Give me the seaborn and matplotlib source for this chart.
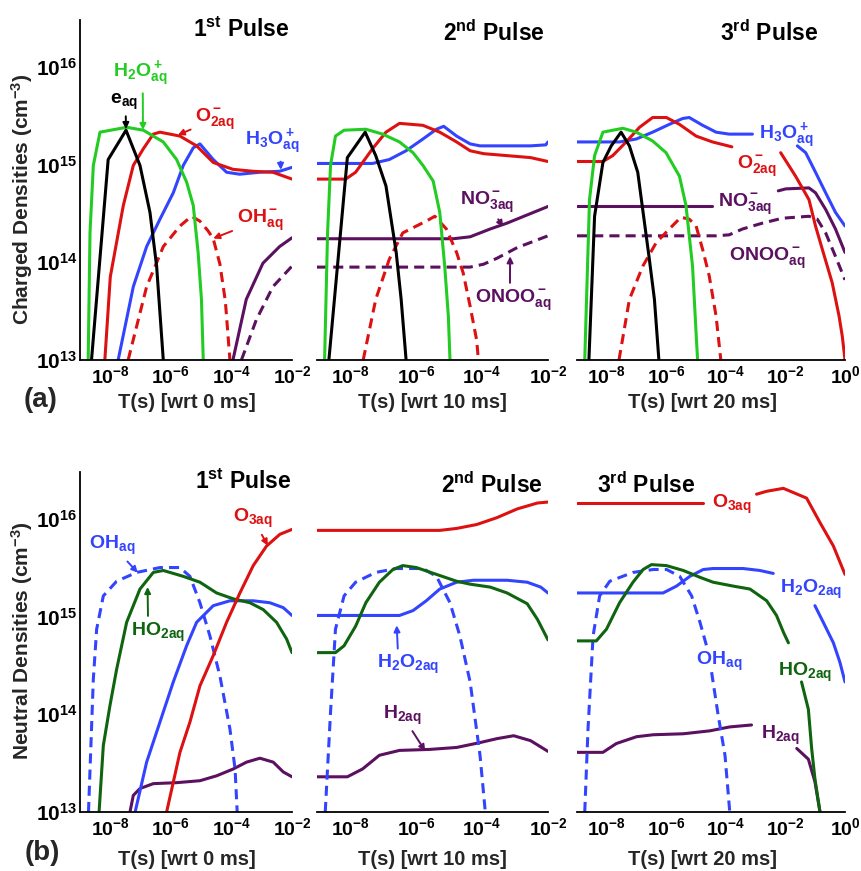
import numpy as np
import matplotlib
matplotlib.use("Agg")
import matplotlib.pyplot as plt
import seaborn as sns
from matplotlib.ticker import LogLocator, FuncFormatter, NullFormatter, NullLocator, FixedLocator

# ---------------- data (log10 of time [s] and log10 of density [cm^-3]) ----------------
# Top row, 1st pulse
A1_e_t = [-8.62, -8.07, -7.48, -7.02, -6.69, -6.47, -6.25]
A1_e_n = [13.0, 15.05, 15.35, 14.99, 14.51, 13.96, 13.0]
A1_h2o_t = [-8.73, -8.67, -8.56, -8.34, -7.46, -6.91, -6.25, -5.81, -5.48, -5.26, -5.10, -4.99, -4.93]
A1_h2o_n = [13.0, 14.3, 14.99, 15.33, 15.38, 15.35, 15.23, 15.05, 14.82, 14.58, 14.1, 13.62, 13.0]
A1_o2_t = [-8.18, -8.0, -7.57, -7.24, -6.91, -6.58, -6.36, -5.70, -5.15, -4.6, -3.95, -3.29, -2.63, -2.0]
A1_o2_n = [13.0, 13.85, 14.58, 14.99, 15.16, 15.31, 15.33, 15.29, 15.19, 15.02, 14.95, 14.93, 14.92, 14.85]
A1_h3o_t = [-7.74, -7.24, -6.80, -6.36, -5.92, -5.59, -5.26, -5.04, -4.6, -4.16, -3.73, -3.07, -2.41, -2.0]
A1_h3o_n = [13.0, 13.75, 14.16, 14.44, 14.71, 14.99, 15.17, 15.21, 15.05, 14.92, 14.9, 14.92, 14.93, 14.97]
A1_oh_t = [-7.41, -6.8, -6.25, -5.7, -5.32, -5.04, -4.77, -4.6, -4.38, -4.2, -4.05]
A1_oh_n = [13.0, 13.75, 14.16, 14.37, 14.47, 14.42, 14.32, 14.24, 13.98, 13.6, 13.0]
A1_no3_t = [-3.95, -3.51, -2.96, -2.41, -2.0]
A1_no3_n = [13.0, 13.62, 13.99, 14.16, 14.25]
A1_onoo_t = [-3.67, -3.18, -2.63, -2.0]
A1_onoo_n = [13.0, 13.41, 13.75, 13.96]

# Top row, 2nd pulse
A2_h3o_t = [-9.0, -7.32, -6.81, -6.30, -5.79, -5.38, -5.16, -4.77, -4.36, -4.06, -3.24, -2.53, -2.07, -2.0]
A2_h3o_n = [15.01, 15.01, 15.05, 15.14, 15.26, 15.36, 15.39, 15.29, 15.21, 15.19, 15.19, 15.19, 15.2, 15.23]
A2_o2_t = [-9.0, -8.13, -7.83, -7.32, -6.91, -6.5, -5.79, -5.28, -4.77, -4.36, -3.95, -3.24, -2.53, -2.0]
A2_o2_n = [14.85, 14.85, 14.92, 15.16, 15.33, 15.42, 15.4, 15.33, 15.23, 15.14, 15.11, 15.09, 15.07, 15.03]
A2_h2o_t = [-8.77, -8.68, -8.59, -8.44, -8.18, -7.52, -7.01, -6.5, -6.09, -5.79, -5.48, -5.28, -5.13, -5.02, -4.97]
A2_h2o_n = [13.0, 14.3, 14.99, 15.29, 15.35, 15.36, 15.31, 15.23, 15.12, 14.99, 14.83, 14.51, 13.96, 13.45, 13.0]
A2_e_t = [-8.64, -8.08, -7.83, -7.54, -7.22, -6.91, -6.6, -6.45, -6.3]
A2_e_n = [13.0, 15.07, 15.19, 15.33, 15.09, 14.78, 14.1, 13.62, 13.0]
A2_oh_t = [-7.6, -7.22, -6.81, -6.4, -5.99, -5.69, -5.43, -5.08, -4.77, -4.57, -4.36, -4.16, -4.11]
A2_oh_n = [13.0, 13.62, 14.03, 14.3, 14.37, 14.42, 14.47, 14.34, 14.1, 13.89, 13.55, 13.2, 13.0]
A2_no3_t = [-9.0, -4.87, -4.36, -3.75, -3.24, -2.73, -2.0]
A2_no3_n = [14.24, 14.24, 14.26, 14.34, 14.4, 14.47, 14.57]
A2_onoo_t = [-9.0, -4.36, -3.95, -3.55, -2.93, -2.0]
A2_onoo_n = [13.95, 13.95, 13.98, 14.04, 14.15, 14.27]

# Top row, 3rd pulse
A3_h3o_t = [-9.0, -7.57, -7.01, -6.46, -5.9, -5.45, -5.23, -4.78, -4.33, -3.89, -3.11]
A3_h3o_n = [15.23, 15.23, 15.26, 15.33, 15.41, 15.47, 15.48, 15.4, 15.33, 15.31, 15.31]
A3_h3o_b_t = [-1.6, -1.32, -0.99, -0.65, -0.32, 0.0]
A3_h3o_b_n = [15.19, 15.12, 14.92, 14.71, 14.51, 14.37]
A3_o2_t = [-9.0, -8.13, -7.8, -7.35, -6.9, -6.46, -6.0, -5.56, -5.0, -4.45, -3.8]
A3_o2_n = [15.03, 15.03, 15.09, 15.23, 15.38, 15.48, 15.48, 15.41, 15.29, 15.23, 15.18]
A3_o2_b_t = [-2.16, -1.66, -1.21, -0.99, -0.76, -0.43, -0.2, -0.09, 0.0]
A3_o2_b_n = [15.12, 14.88, 14.64, 14.37, 14.13, 13.79, 13.45, 13.24, 13.0]
A3_no3_t = [-9.0, -4.45]
A3_no3_n = [14.57, 14.57]
A3_no3_b_t = [-2.24, -1.99, -1.21, -0.99, -0.65, -0.32, 0.0]
A3_no3_b_n = [14.73, 14.75, 14.76, 14.71, 14.54, 14.34, 14.1]
A3_onoo_t = [-9.0, -4.33, -3.89, -3.44, -2.77, -2.1, -1.21, -0.93, -0.65, -0.32, 0.0]
A3_onoo_n = [14.27, 14.27, 14.28, 14.34, 14.4, 14.45, 14.47, 14.44, 14.3, 14.06, 13.82]
A3_h2o_t = [-8.74, -8.58, -8.41, -8.13, -7.46, -7.01, -6.46, -6.01, -5.56, -5.34, -5.12, -5.0, -4.95]
A3_h2o_n = [13.0, 14.64, 15.09, 15.33, 15.37, 15.33, 15.24, 15.12, 14.88, 14.58, 13.96, 13.27, 13.0]
A3_e_t = [-8.6, -8.41, -8.13, -7.85, -7.52, -7.24, -6.96, -6.57, -6.4, -6.25]
A3_e_n = [13.0, 14.47, 15.02, 15.19, 15.33, 15.19, 14.92, 14.03, 13.62, 13.0]
A3_oh_t = [-7.59, -7.24, -6.79, -6.34, -5.9, -5.51, -5.23, -5.0, -4.78, -4.56, -4.33, -4.17]
A3_oh_n = [13.0, 13.62, 13.96, 14.2, 14.34, 14.46, 14.44, 14.37, 14.13, 13.86, 13.45, 13.0]

# Bottom row, 1st pulse
B1_oh_t = [-8.72, -8.56, -8.45, -8.23, -7.79, -7.13, -6.36, -5.7, -5.37, -5.04, -4.71, -4.38, -4.05, -3.88, -3.81]
B1_oh_n = [13.0, 14.36, 14.87, 15.21, 15.36, 15.45, 15.5, 15.5, 15.41, 15.14, 14.8, 14.39, 13.85, 13.44, 13.0]
B1_ho2_t = [-8.37, -8.23, -8.01, -7.79, -7.46, -7.02, -6.58, -6.25, -5.59, -5.04, -4.49, -3.94, -3.39, -2.95, -2.51, -2.18, -2.0]
B1_ho2_n = [13.0, 13.68, 14.09, 14.46, 14.94, 15.28, 15.45, 15.47, 15.41, 15.35, 15.24, 15.18, 15.14, 15.07, 14.94, 14.77, 14.63]
B1_h2o2_t = [-7.18, -6.8, -6.36, -5.92, -5.48, -5.15, -4.6, -4.05, -3.28, -2.73, -2.29, -2.0]
B1_h2o2_n = [13.0, 13.51, 13.92, 14.33, 14.7, 14.94, 15.11, 15.16, 15.16, 15.14, 15.09, 15.01]
B1_o3_t = [-6.14, -5.7, -5.37, -5.04, -4.6, -4.16, -3.72, -3.28, -2.84, -2.4, -2.0]
B1_o3_n = [13.0, 13.61, 13.92, 14.29, 14.6, 14.94, 15.24, 15.52, 15.72, 15.84, 15.89]
B1_h2_t = [-7.35, -7.24, -7.02, -6.58, -5.81, -5.04, -4.49, -3.94, -3.5, -3.06, -2.62, -2.29, -2.0]
B1_h2_n = [13.0, 13.17, 13.24, 13.29, 13.3, 13.32, 13.37, 13.44, 13.51, 13.55, 13.51, 13.41, 13.36]

# Bottom row, 2nd pulse
B2_o3_t = [-9.0, -5.28, -4.77, -4.16, -3.55, -2.93, -2.32, -2.0]
B2_o3_n = [15.88, 15.88, 15.9, 15.94, 16.01, 16.1, 16.16, 16.17]
B2_oh_t = [-8.75, -8.59, -8.44, -8.18, -7.83, -7.22, -6.6, -5.79, -5.38, -4.97, -4.67, -4.36, -4.06, -3.9]
B2_oh_n = [13.0, 14.02, 14.87, 15.21, 15.35, 15.45, 15.49, 15.49, 15.41, 15.14, 14.8, 14.33, 13.58, 13.0]
B2_ho2_t = [-9.0, -8.44, -8.18, -7.83, -7.52, -7.11, -6.7, -6.4, -5.99, -5.38, -4.77, -4.36, -3.75, -3.24, -2.63, -2.32, -2.0]
B2_ho2_n = [14.63, 14.63, 14.7, 14.9, 15.14, 15.35, 15.48, 15.52, 15.5, 15.43, 15.36, 15.33, 15.3, 15.24, 15.13, 14.97, 14.76]
B2_h2o2_t = [-9.0, -6.5, -6.09, -5.69, -5.28, -4.77, -4.26, -3.24, -2.63, -2.22, -2.0]
B2_h2o2_n = [15.01, 15.01, 15.06, 15.16, 15.28, 15.35, 15.37, 15.37, 15.35, 15.3, 15.24]
B2_h2_t = [-9.0, -8.08, -7.62, -7.11, -6.5, -5.59, -4.77, -4.06, -3.55, -3.04, -2.53, -2.0]
B2_h2_n = [13.36, 13.36, 13.44, 13.58, 13.63, 13.64, 13.66, 13.71, 13.75, 13.78, 13.73, 13.62]

# Bottom row, 3rd pulse
B3_o3_t = [-9.0, -4.76]
B3_o3_n = [16.16, 16.16]
B3_o3_b_t = [-2.97, -2.63, -2.07, -1.29, -0.84, -0.39, 0.0]
B3_o3_b_n = [16.25, 16.28, 16.31, 16.21, 15.96, 15.72, 15.43]
B3_h2o2_t = [-9.0, -6.11, -5.66, -5.21, -4.76, -4.43, -3.42, -2.86, -2.41]
B3_h2o2_n = [15.24, 15.24, 15.31, 15.41, 15.48, 15.49, 15.49, 15.47, 15.44]
B3_h2o2_b_t = [-1.01, -0.73, -0.39, -0.17, 0.0]
B3_h2o2_b_n = [15.11, 14.94, 14.73, 14.53, 14.33]
B3_oh_t = [-8.74, -8.63, -8.46, -8.24, -7.9, -7.12, -6.44, -5.99, -5.55, -5.15, -4.87, -4.65]
B3_oh_n = [13.0, 13.85, 14.8, 15.21, 15.36, 15.45, 15.48, 15.48, 15.41, 15.21, 14.94, 14.7]
B3_oh_b_t = [-4.48, -4.26, -4.03, -3.87]
B3_oh_b_n = [14.43, 13.99, 13.58, 13.0]
B3_ho2_t = [-9.0, -8.35, -8.01, -7.57, -7.12, -6.78, -6.5, -6.0, -5.43, -4.87, -4.43, -3.75, -3.19, -2.63, -2.3, -2.07, -1.9]
B3_ho2_n = [14.75, 14.75, 14.87, 15.14, 15.35, 15.48, 15.53, 15.52, 15.47, 15.4, 15.35, 15.31, 15.28, 15.16, 15.01, 14.84, 14.73]
B3_ho2_b_t = [-1.46, -1.23, -1.12, -1.01, -0.84]
B3_ho2_b_n = [14.33, 14.05, 13.65, 13.34, 13.0]
B3_h2_t = [-9.0, -8.13, -7.68, -7.0, -6.44, -5.43, -4.54, -3.87, -3.14]
B3_h2_n = [13.61, 13.61, 13.7, 13.77, 13.79, 13.8, 13.83, 13.87, 13.89]
B3_h2_b_t = [-1.62, -1.23, -1.01, -0.84]
B3_h2_b_n = [13.65, 13.54, 13.31, 13.0]

x_ranges = [(1e-9, 1e-2), (1e-9, 1e-2), (1e-9, 1e0)]
x_labelled = [[1e-8, 1e-6, 1e-4, 1e-2], [1e-8, 1e-6, 1e-4, 1e-2], [1e-8, 1e-6, 1e-4, 1e-2, 1e0]]
x_unlabelled = [[1e-9, 1e-7, 1e-5, 1e-3], [1e-9, 1e-7, 1e-5, 1e-3], [1e-9, 1e-7, 1e-5, 1e-3, 1e-1]]
y_range = (1e13, 3e16)
x_labels = ["T(s) [wrt 0 ms]", "T(s) [wrt 10 ms]", "T(s) [wrt 20 ms]"]
pulse_titles = [r"$1^{st}$ Pulse", r"$2^{nd}$ Pulse", r"$3^{rd}$ Pulse"]

# ---------------- style ----------------
sns.set_style("white")
plt.rcParams["font.family"] = ["Liberation Sans", "DejaVu Sans"]
plt.rcParams["font.weight"] = "bold"
plt.rcParams["mathtext.fontset"] = "custom"
plt.rcParams["mathtext.rm"] = "Liberation Sans:bold"
plt.rcParams["mathtext.bf"] = "Liberation Sans:bold"
plt.rcParams["mathtext.it"] = "Liberation Sans:bold"
plt.rcParams["mathtext.sf"] = "Liberation Sans:bold"
plt.rcParams["mathtext.default"] = "bf"
plt.rcParams["axes.edgecolor"] = "black"
plt.rcParams["axes.linewidth"] = 1.3

GREEN = "#22cc22"
BLACK = "#000000"
RED = "#dd1111"
BLUE = "#3344ff"
PURPLE = "#5b1060"
DKGREEN = "#0f640f"
DASH = (0, (3.3, 2.0))

fig = plt.figure(figsize=(8.62, 8.71), dpi=100)
W, H = 862.0, 871.0
col_px = [(80, 292), (317, 548), (577, 845)]
row_px = [(20, 360), (472, 812)]

axes = []
for r, (ytop, ybot) in enumerate(row_px):
    row = []
    for c, (xl, xr) in enumerate(col_px):
        ax = fig.add_axes([xl / W, 1 - ybot / H, (xr - xl) / W, (ybot - ytop) / H])
        ax.set_xscale("log")
        ax.set_yscale("log")
        ax.set_xlim(*x_ranges[c])
        ax.set_ylim(*y_range)
        ax.set_facecolor("none")
        for s in ["top", "right"]:
            ax.spines[s].set_visible(False)
        ax.xaxis.set_major_locator(FixedLocator(x_labelled[c]))
        ax.xaxis.set_minor_locator(FixedLocator(x_unlabelled[c]))
        ax.xaxis.set_minor_formatter(NullFormatter())
        ax.xaxis.set_major_formatter(FuncFormatter(lambda v, p: r"$10^{%d}$" % int(round(np.log10(v)))))
        ax.tick_params(axis="x", which="both", direction="in", length=6, width=1.3,
                       labelsize=14, pad=4, colors="black")
        if c == 0:
            ax.yaxis.set_major_locator(LogLocator(base=10, numticks=10))
            ax.yaxis.set_minor_locator(LogLocator(base=10, subs=np.arange(2, 10), numticks=20))
            ax.yaxis.set_minor_formatter(NullFormatter())
            ax.yaxis.set_major_formatter(FuncFormatter(lambda v, p: r"$10^{%d}$" % int(round(np.log10(v)))))
            ax.tick_params(axis="y", which="major", direction="in", length=7, width=1.3,
                           labelsize=15, pad=2, colors="black")
            ax.tick_params(axis="y", which="minor", direction="in", length=3.5, width=1.0, colors="black")
        else:
            ax.spines["left"].set_visible(False)
            ax.yaxis.set_major_locator(NullLocator())
            ax.yaxis.set_minor_locator(NullLocator())
        row.append(ax)
    axes.append(row)


def draw(ax, t, n, color, dashed=False):
    sns.lineplot(x=np.power(10.0, np.array(t)), y=np.power(10.0, np.array(n)), ax=ax,
                 color=color, linewidth=2.2, linestyle=DASH if dashed else "-",
                 estimator=None, sort=False, legend=False, errorbar=None)


def label(ax, text, color, pos, target=None, relpos=(0.5, 0.5), size=14):
    if target is None:
        ax.text(pos[0], pos[1], text, color=color, fontsize=size, ha="center", va="center",
                clip_on=False)
    else:
        ax.annotate(text, xy=target, xytext=pos, color=color, fontsize=size,
                    ha="center", va="center", annotation_clip=False,
                    arrowprops=dict(arrowstyle="-|>", color=color, lw=1.4, mutation_scale=9,
                                    shrinkA=1, shrinkB=0, relpos=relpos))


# ---- top row ----
a1, a2, a3 = axes[0]
draw(a1, A1_no3_t, A1_no3_n, PURPLE)
draw(a1, A1_onoo_t, A1_onoo_n, PURPLE, True)
draw(a1, A1_oh_t, A1_oh_n, RED, True)
draw(a1, A1_h3o_t, A1_h3o_n, BLUE)
draw(a1, A1_o2_t, A1_o2_n, RED)
draw(a1, A1_h2o_t, A1_h2o_n, GREEN)
draw(a1, A1_e_t, A1_e_n, BLACK)

draw(a2, A2_no3_t, A2_no3_n, PURPLE)
draw(a2, A2_onoo_t, A2_onoo_n, PURPLE, True)
draw(a2, A2_oh_t, A2_oh_n, RED, True)
draw(a2, A2_h3o_t, A2_h3o_n, BLUE)
draw(a2, A2_o2_t, A2_o2_n, RED)
draw(a2, A2_h2o_t, A2_h2o_n, GREEN)
draw(a2, A2_e_t, A2_e_n, BLACK)

draw(a3, A3_no3_t, A3_no3_n, PURPLE)
draw(a3, A3_no3_b_t, A3_no3_b_n, PURPLE)
draw(a3, A3_onoo_t, A3_onoo_n, PURPLE, True)
draw(a3, A3_oh_t, A3_oh_n, RED, True)
draw(a3, A3_h3o_t, A3_h3o_n, BLUE)
draw(a3, A3_h3o_b_t, A3_h3o_b_n, BLUE)
draw(a3, A3_o2_t, A3_o2_n, RED)
draw(a3, A3_o2_b_t, A3_o2_b_n, RED)
draw(a3, A3_h2o_t, A3_h2o_n, GREEN)
draw(a3, A3_e_t, A3_e_n, BLACK)

label(a1, r"$H_2O^+_{aq}$", GREEN, (9.6e-8, 8.5e15), (1.2e-7, 2.25e15), relpos=(0.55, 0.0))
label(a1, r"$e_{aq}$", BLACK, (2.9e-8, 4.4e15), (3.3e-8, 2.3e15), relpos=(0.55, 0.0))
label(a1, r"$O^-_{2aq}$", RED, (2.9e-5, 2.9e15), (1.7e-6, 2.0e15))
label(a1, r"$H_3O^+_{aq}$", BLUE, (2.2e-3, 1.7e15), (4.3e-3, 8.8e14), relpos=(0.65, 0.0))
label(a1, r"$OH^-_{aq}$", RED, (8.7e-4, 2.7e14), (2.5e-5, 1.75e14))

label(a2, r"$NO^-_{3aq}$", PURPLE, (1.4e-4, 4.1e14), (4.4e-4, 2.3e14))
label(a2, r"$ONOO^-_{aq}$", PURPLE, (8.7e-4, 4.1e13), (7.1e-4, 1.15e14), relpos=(0.46, 1.0))

label(a3, r"$H_3O^+_{aq}$", BLUE, (1.1e-2, 1.95e15))
label(a3, r"$O^-_{2aq}$", RED, (1.1e-3, 9.6e14))
label(a3, r"$NO^-_{3aq}$", PURPLE, (4.4e-4, 3.9e14))
label(a3, r"$ONOO^-_{aq}$", PURPLE, (2.4e-3, 1.1e14))

# ---- bottom row ----
b1, b2, b3 = axes[1]
draw(b1, B1_h2_t, B1_h2_n, PURPLE)
draw(b1, B1_oh_t, B1_oh_n, BLUE, True)
draw(b1, B1_h2o2_t, B1_h2o2_n, BLUE)
draw(b1, B1_ho2_t, B1_ho2_n, DKGREEN)
draw(b1, B1_o3_t, B1_o3_n, RED)

draw(b2, B2_h2_t, B2_h2_n, PURPLE)
draw(b2, B2_oh_t, B2_oh_n, BLUE, True)
draw(b2, B2_h2o2_t, B2_h2o2_n, BLUE)
draw(b2, B2_ho2_t, B2_ho2_n, DKGREEN)
draw(b2, B2_o3_t, B2_o3_n, RED)

draw(b3, B3_h2_t, B3_h2_n, PURPLE)
draw(b3, B3_h2_b_t, B3_h2_b_n, PURPLE)
draw(b3, B3_oh_t, B3_oh_n, BLUE, True)
draw(b3, B3_oh_b_t, B3_oh_b_n, BLUE, True)
draw(b3, B3_h2o2_t, B3_h2o2_n, BLUE)
draw(b3, B3_h2o2_b_t, B3_h2o2_b_n, BLUE)
draw(b3, B3_ho2_t, B3_ho2_n, DKGREEN)
draw(b3, B3_ho2_b_t, B3_ho2_b_n, DKGREEN)
draw(b3, B3_o3_t, B3_o3_n, RED)
draw(b3, B3_o3_b_t, B3_o3_b_n, RED)

label(b1, r"$OH_{aq}$", BLUE, (1.2e-8, 5.3e15), (8.1e-8, 2.8e15))
label(b1, r"$HO_{2aq}$", DKGREEN, (3.7e-7, 6.9e14), (1.7e-7, 2.0e15), relpos=(0.32, 1.0))
label(b1, r"$O_{3aq}$", RED, (5.1e-4, 1.0e16), (1.6e-3, 5.3e15))

label(b2, r"$H_2O_{2aq}$", BLUE, (5.7e-7, 3.2e14), (2.6e-7, 8.1e14), relpos=(0.34, 1.0))
label(b2, r"$H_{2aq}$", PURPLE, (3.8e-7, 9.8e13), (1.9e-6, 4.2e13))

label(b3, r"$O_{3aq}$", RED, (1.6e-4, 1.4e16))
label(b3, r"$H_2O_{2aq}$", BLUE, (7.1e-2, 1.9e15))
label(b3, r"$OH_{aq}$", BLUE, (6.0e-5, 3.5e14))
label(b3, r"$HO_{2aq}$", DKGREEN, (4.4e-2, 2.7e14))
label(b3, r"$H_{2aq}$", PURPLE, (6.8e-3, 6.1e13))

# ---- titles and axis labels ----
title_pos = [[(290, 30, "right"), (545, 33, "right"), (818, 33, "right")],
             [(292, 482, "right"), (543, 485, "right"), (597, 485, "left")]]
for r in range(2):
    for c in range(3):
        x, y, ha = title_pos[r][c]
        fig.text(x / W, 1 - y / H, pulse_titles[c], fontsize=16.5, fontweight="bold",
                 ha=ha, va="center", color="black")

xlab_x = [187, 432, 703]
for r, yl in enumerate([402, 859]):
    for c in range(3):
        fig.text(xlab_x[c] / W, 1 - yl / H, x_labels[c], fontsize=14.5, fontweight="bold",
                 ha="center", va="center")

fig.text(22 / W, 1 - 199 / H, r"Charged Densities (cm$^{-3}$)", rotation=90, fontsize=15,
         fontweight="bold", ha="center", va="center")
fig.text(22 / W, 1 - 641 / H, r"Neutral Densities (cm$^{-3}$)", rotation=90, fontsize=15,
         fontweight="bold", ha="center", va="center")
fig.text(41 / W, 1 - 400 / H, "(a)", fontsize=20, fontweight="bold", ha="center", va="center")
fig.text(42 / W, 1 - 853 / H, "(b)", fontsize=20, fontweight="bold", ha="center", va="center")

fig.savefig("out.png", dpi=100)
